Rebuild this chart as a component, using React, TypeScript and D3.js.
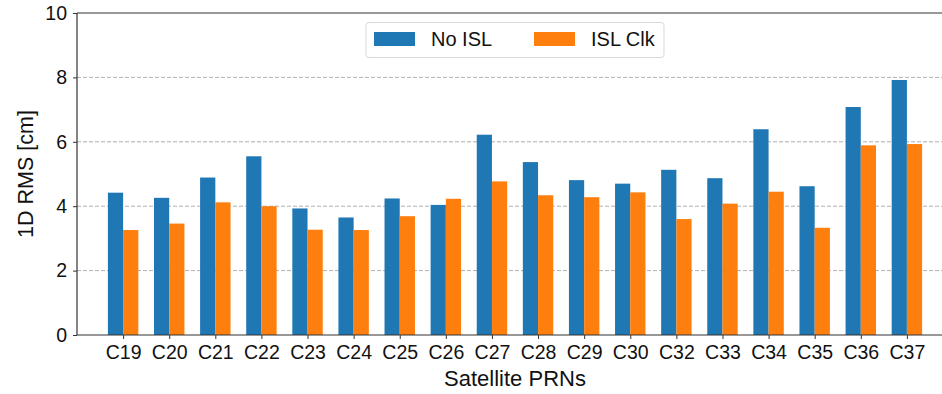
import React, { useRef, useEffect } from 'react';
import * as d3 from 'd3';

const prns = ['C19', 'C20', 'C21', 'C22', 'C23', 'C24', 'C25', 'C26', 'C27', 'C28', 'C29', 'C30', 'C32', 'C33', 'C34', 'C35', 'C36', 'C37'];
const noIsl = [4.42, 4.26, 4.89, 5.55, 3.93, 3.65, 4.24, 4.04, 6.22, 5.37, 4.81, 4.70, 5.13, 4.87, 6.39, 4.62, 7.08, 7.92];
const islClk = [3.26, 3.46, 4.12, 4.0, 3.27, 3.26, 3.69, 4.23, 4.77, 4.34, 4.28, 4.43, 3.60, 4.08, 4.45, 3.33, 5.89, 5.93];
const yTicks = [0, 2, 4, 6, 8, 10];
const seriesNames = ['No ISL', 'ISL Clk'];
const colors = ['#1f77b4', '#ff7f0e'];

const W = 942;
const H = 394;
const FONT = '"Liberation Sans", Arial, sans-serif';

const App: React.FC = () => {
  const svgRef = useRef<SVGSVGElement | null>(null);

  useEffect(() => {
    const svg = d3.select(svgRef.current!);
    svg.selectAll('*').remove();

    const left = 77, top = 13, bottom = 335, right = 953;

    const x = d3.scaleLinear().domain([-1, prns.length]).range([left, right]);
    const y = d3.scaleLinear().domain([0, 10]).range([bottom, top]);
    const bw = 0.33;

    // grid
    svg.append('g')
      .selectAll('line')
      .data(yTicks.filter((t) => t > 0 && t < 10))
      .join('line')
      .attr('x1', left)
      .attr('x2', right)
      .attr('y1', (d) => y(d))
      .attr('y2', (d) => y(d))
      .attr('stroke', '#b0b0b0')
      .attr('stroke-width', 1)
      .attr('stroke-dasharray', '4,2');

    const series = [noIsl, islClk];
    series.forEach((vals, s) => {
      svg.append('g')
        .selectAll('rect')
        .data(vals)
        .join('rect')
        .attr('x', (_, i) => x(i + (s === 0 ? -bw : 0)))
        .attr('width', x(bw) - x(0))
        .attr('y', (d) => y(d))
        .attr('height', (d) => y(0) - y(d))
        .attr('fill', colors[s]);
    });

    // spines
    svg.append('line')
      .attr('x1', left).attr('x2', right)
      .attr('y1', top).attr('y2', top)
      .attr('stroke', '#333').attr('stroke-width', 1.2);

    const yAxis = svg.append('g')
      .attr('transform', `translate(${left},0)`)
      .call(d3.axisLeft(y).tickValues(yTicks).tickSize(4).tickPadding(6));
    const xAxis = svg.append('g')
      .attr('transform', `translate(0,${bottom})`)
      .call(d3.axisBottom(x).tickValues(d3.range(prns.length)).tickFormat((i) => prns[+i]).tickSize(4).tickPadding(6));

    [xAxis, yAxis].forEach((a) => {
      a.select('.domain').attr('stroke', '#333').attr('stroke-width', 1.2);
      a.selectAll('.tick line').attr('stroke', '#333');
      a.selectAll('text')
        .attr('font-family', FONT)
        .attr('font-size', 19.5)
        .attr('fill', '#111');
    });
    yAxis.select('.domain').attr('d', `M0,${bottom}V${top}`);
    xAxis.select('.domain').attr('d', `M${left},0H${right}`);

    svg.append('text')
      .attr('x', (left + right) / 2)
      .attr('y', 386)
      .attr('text-anchor', 'middle')
      .attr('font-family', FONT)
      .attr('font-size', 22)
      .attr('fill', '#111')
      .text('Satellite PRNs');

    svg.append('text')
      .attr('transform', `translate(33,${(top + bottom) / 2}) rotate(-90)`)
      .attr('text-anchor', 'middle')
      .attr('font-family', FONT)
      .attr('font-size', 21.5)
      .attr('fill', '#111')
      .text('1D RMS [cm]');

    // legend
    const lg = svg.append('g');
    lg.append('rect')
      .attr('x', 366).attr('y', 22.5)
      .attr('width', 298).attr('height', 35)
      .attr('rx', 3)
      .attr('fill', 'white')
      .attr('fill-opacity', 0.8)
      .attr('stroke', '#d9d9d9');
    const itemX = [374, 534];
    seriesNames.forEach((name, i) => {
      lg.append('rect')
        .attr('x', itemX[i]).attr('y', 32)
        .attr('width', 41).attr('height', 14)
        .attr('fill', colors[i]);
      lg.append('text')
        .attr('x', itemX[i] + 57)
        .attr('y', 46)
        .attr('font-family', FONT)
        .attr('font-size', 20)
        .attr('fill', '#111')
        .text(name);
    });
  }, []);

  return (
    <svg
      ref={svgRef}
      width={W}
      height={H}
      style={{ position: 'absolute', left: 0, top: 0, background: 'white', overflow: 'hidden' }}
    ></svg>
  );
};

export default App;
